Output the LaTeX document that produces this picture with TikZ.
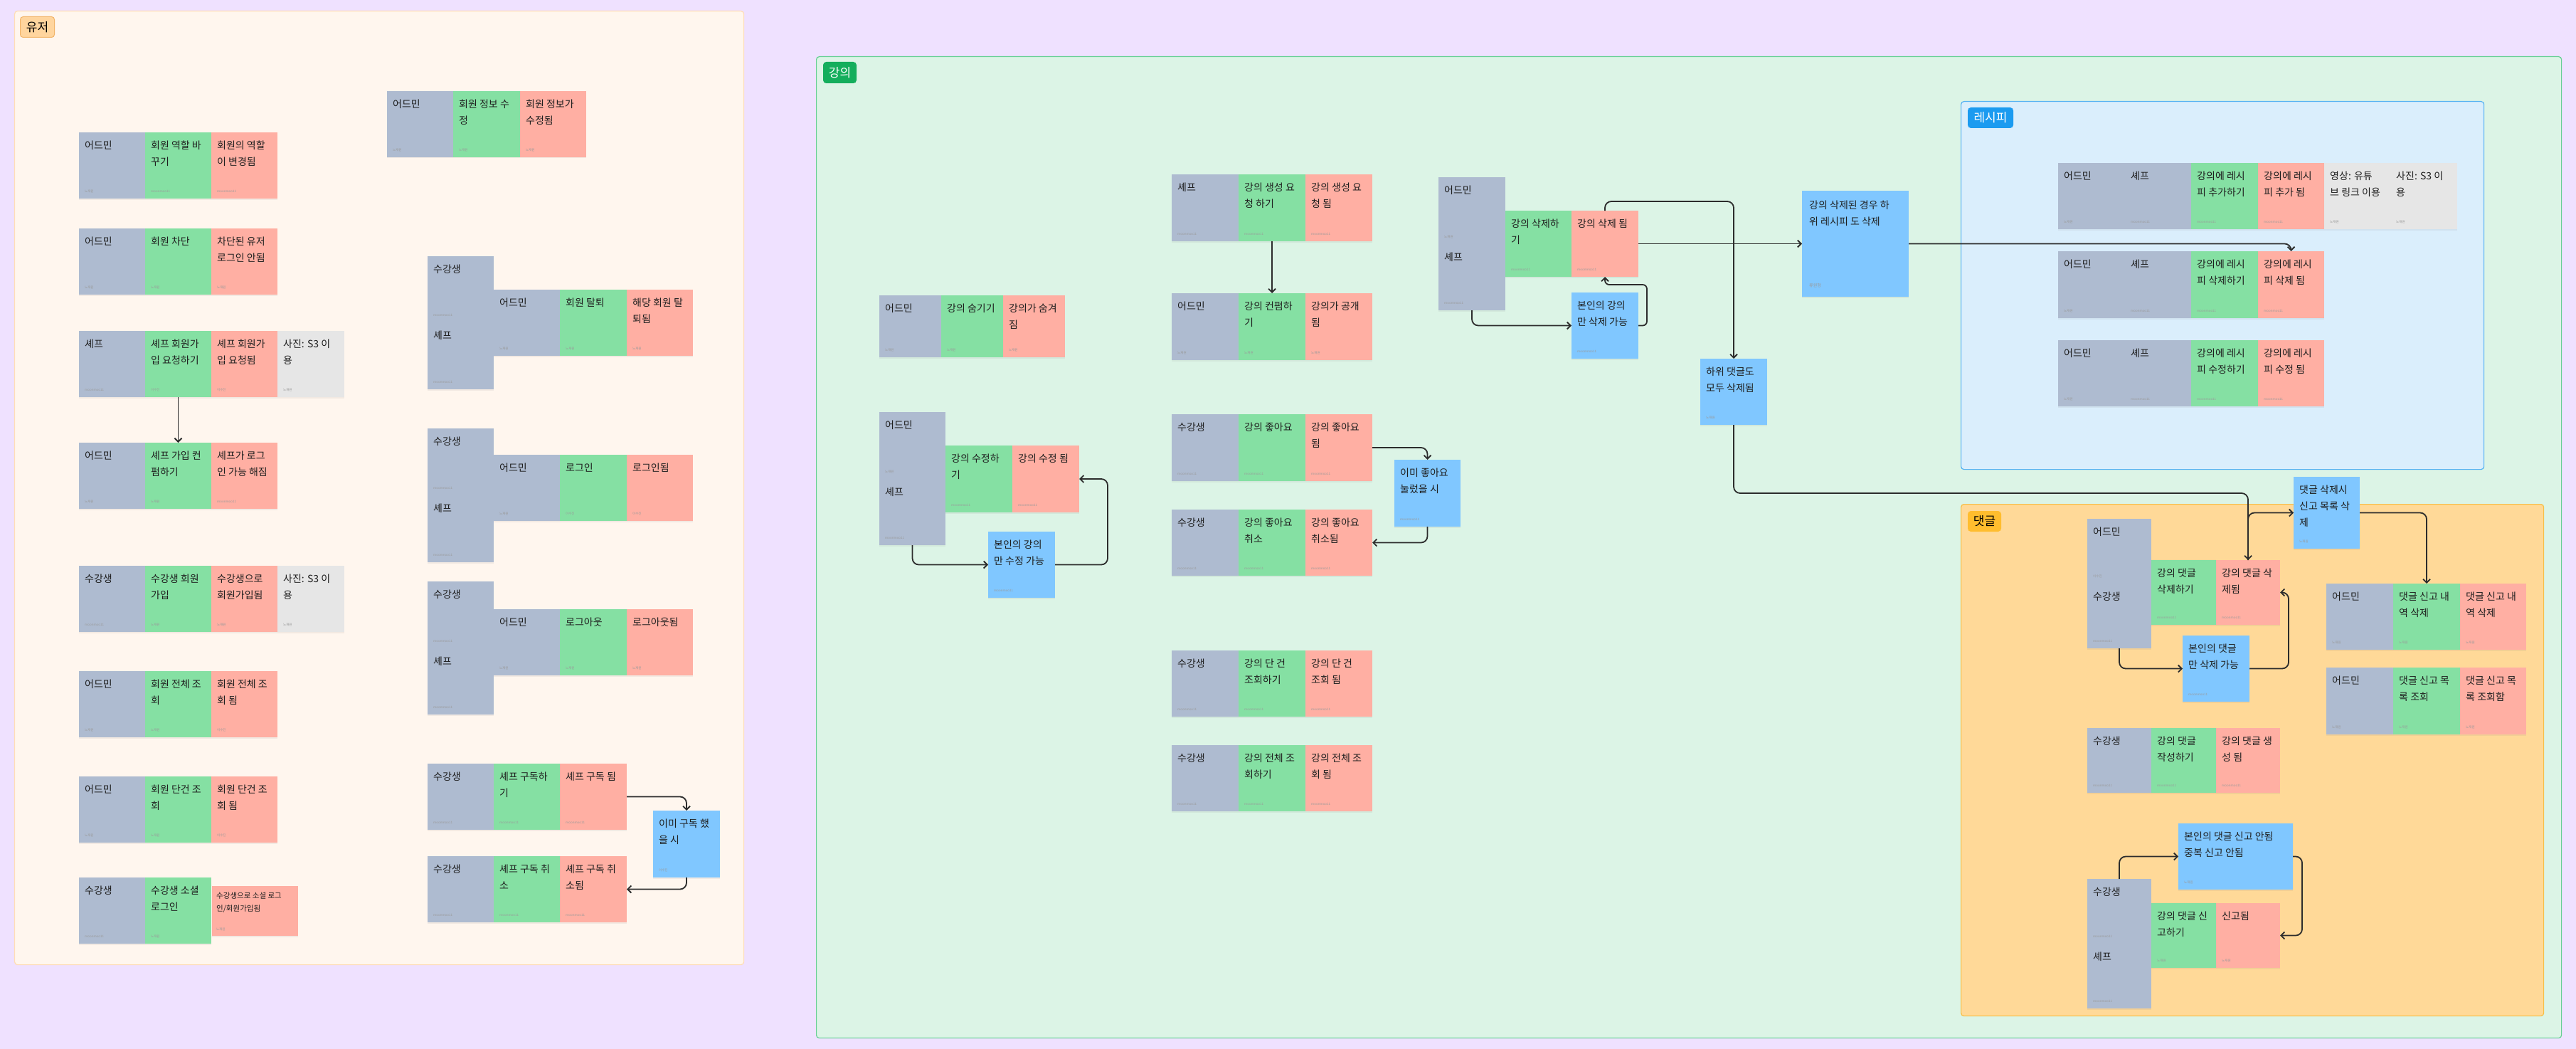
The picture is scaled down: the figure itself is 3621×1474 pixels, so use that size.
\documentclass[tikz,border=0pt]{standalone}
\usepackage{fontspec}
\setmainfont{Noto Sans CJK KR}
\usetikzlibrary{arrows.meta,shadows,calc}

% palette
\definecolor{canvas}{HTML}{EFE1FF}
\definecolor{userbg}{HTML}{FFF6EE}
\definecolor{userline}{HTML}{FFDDB5}
\definecolor{usertag}{HTML}{FFD59E}
\definecolor{usertagline}{HTML}{F2B56B}
\definecolor{lecbg}{HTML}{DCF4E6}
\definecolor{lecline}{HTML}{66CF94}
\definecolor{lectag}{HTML}{14AE5C}
\definecolor{recbg}{HTML}{DAEEFC}
\definecolor{recline}{HTML}{55B2F2}
\definecolor{rectag}{HTML}{1B9BF0}
\definecolor{cmtbg}{HTML}{FFD998}
\definecolor{cmtline}{HTML}{F7BE45}
\definecolor{cmttag}{HTML}{FFBD2E}
\definecolor{actorc}{HTML}{AEBBD0}
\definecolor{actionc}{HTML}{85E0A3}
\definecolor{eventc}{HTML}{FFAFA3}
\definecolor{infoc}{HTML}{E6E6E6}
\definecolor{rulec}{HTML}{80C7FF}
\definecolor{ink}{HTML}{1E1E1E}
\definecolor{wirec}{HTML}{2C2C2C}

\tikzset{
  card/.style={inner sep=0pt, outer sep=0pt, draw=none,
    drop shadow={shadow xshift=0pt, shadow yshift=-1.5pt, opacity=0.10}},
  actorcard/.style={card, fill=actorc},
  actioncard/.style={card, fill=actionc},
  eventcard/.style={card, fill=eventc},
  infocard/.style={card, fill=infoc},
  rulecard/.style={card, fill=rulec},
  cardtxt/.style={inner sep=0pt, align=left, text=ink, font=\fontsize{14}{23}\selectfont},
  smalltxt/.style={inner sep=0pt, align=left, text=ink, font=\fontsize{10.5}{17.5}\selectfont},
  authtxt/.style={inner sep=0pt, text=ink!45, font=\fontsize{4.5}{5}\selectfont},
  panel/.style={rounded corners=4pt, line width=1.2pt, inner sep=0pt, anchor=north west},
  tag/.style={rounded corners=4pt, line width=1pt, inner sep=0pt, anchor=north west,
    font=\fontsize{17}{20}\selectfont},
  wire/.style={draw=wirec, line width=1.8pt, rounded corners=9pt,
    -{Straight Barb[length=5pt,width=10pt]}}
}

% sticky note: name, x, y, width, height, style, text, author
\newcommand\stk[8]{%
  \node[#6, minimum width=#4pt, minimum height=#5pt, anchor=north west] (#1) at (#2,#3) {};
  \node[cardtxt, anchor=north west] (#1t) at ([xshift=8pt,yshift=-12pt]#1.north west) {#7};
  \node[authtxt, anchor=base west] (#1a) at ([xshift=8pt,yshift=9pt]#1.south west) {#8};
}

\begin{document}
\begin{tikzpicture}[x=1pt,y=-1pt]
\fill[canvas] (0,0) rectangle (3621,1474);
\useasboundingbox (0,0) rectangle (3621,1474);

% ---------- containers ----------
\node[panel, fill=userbg, draw=userline, minimum width=1025pt, minimum height=1340pt] (userpanel) at (20,15) {};
\node[tag, fill=usertag, draw=usertagline, minimum width=48pt, minimum height=29pt] (usertag) at (28,23) {유저};

\node[panel, fill=lecbg, draw=lecline, minimum width=2453pt, minimum height=1379pt] (lecpanel) at (1147,79) {};
\node[tag, fill=lectag, draw=lectag, text=white, minimum width=46pt, minimum height=29pt] (lectag) at (1157,87) {강의};

\node[panel, fill=recbg, draw=recline, minimum width=735pt, minimum height=517pt] (recpanel) at (2756,142) {};
\node[tag, fill=rectag, draw=rectag, text=white, minimum width=63pt, minimum height=28pt] (rectag) at (2766,151) {레시피};

\node[panel, fill=cmtbg, draw=cmtline, minimum width=819pt, minimum height=719pt] (cmtpanel) at (2756,708) {};
\node[tag, fill=cmttag, draw=cmttag, minimum width=46pt, minimum height=28pt] (cmttag) at (2766,718) {댓글};

% ---------- 유저 ----------
\stk{uA1}{111}{186}{93}{93}{actorcard}{어드민}{노재원}
\stk{uA2}{204}{186}{93}{93}{actioncard}{회원 역할 바\\꾸기}{moonmoo11}
\stk{uA3}{297}{186}{93}{93}{eventcard}{회원의 역할\\이 변경됨}{moonmoo11}

\stk{uB1}{111}{321}{93}{93}{actorcard}{어드민}{노재원}
\stk{uB2}{204}{321}{93}{93}{actioncard}{회원 차단}{노재원}
\stk{uB3}{297}{321}{93}{93}{eventcard}{차단된 유저\\로그인 안됨}{노재원}

\stk{uC1}{111}{465}{93}{93}{actorcard}{셰프}{moonmoo11}
\stk{uC2}{204}{465}{93}{93}{actioncard}{셰프 회원가\\입 요청하기}{이수진}
\stk{uC3}{297}{465}{93}{93}{eventcard}{셰프 회원가\\입 요청됨}{이수진}
\stk{uC4}{390}{465}{94}{93}{infocard}{사진: S3 이\\용}{노재원}

\stk{uD1}{111}{622}{93}{93}{actorcard}{어드민}{노재원}
\stk{uD2}{204}{622}{93}{93}{actioncard}{셰프 가입 컨\\펌하기}{노재원}
\stk{uD3}{297}{622}{93}{93}{eventcard}{셰프가 로그\\인 가능 해짐}{moonmoo11}

\stk{uE1}{111}{795}{93}{93}{actorcard}{수강생}{moonmoo11}
\stk{uE2}{204}{795}{93}{93}{actioncard}{수강생 회원\\가입}{노재원}
\stk{uE3}{297}{795}{93}{93}{eventcard}{수강생으로\\회원가입됨}{노재원}
\stk{uE4}{390}{795}{94}{93}{infocard}{사진: S3 이\\용}{노재원}

\stk{uF1}{111}{943}{93}{93}{actorcard}{어드민}{노재원}
\stk{uF2}{204}{943}{93}{93}{actioncard}{회원 전체 조\\회}{노재원}
\stk{uF3}{297}{943}{93}{93}{eventcard}{회원 전체 조\\회 됨}{이수진}

\stk{uG1}{111}{1091}{93}{93}{actorcard}{어드민}{노재원}
\stk{uG2}{204}{1091}{93}{93}{actioncard}{회원 단건 조\\회}{노재원}
\stk{uG3}{297}{1091}{93}{93}{eventcard}{회원 단건 조\\회 됨}{이수진}

\stk{uH1}{111}{1233}{93}{93}{actorcard}{수강생}{moonmoo11}
\stk{uH2}{204}{1233}{93}{93}{actioncard}{수강생 소셜\\로그인}{노재원}
\node[eventcard, minimum width=121pt, minimum height=70pt, anchor=north west] (uH3) at (298,1245) {};
\node[smalltxt, anchor=north west] (uH3t) at ([xshift=6pt,yshift=-9pt]uH3.north west) {수강생으로 소셜 로그\\인/회원가입됨};
\node[authtxt, anchor=base west] (uH3a) at ([xshift=6pt,yshift=8pt]uH3.south west) {노재원};

\stk{uI1}{544}{128}{93}{93}{actorcard}{어드민}{노재원}
\stk{uI2}{637}{128}{94}{93}{actioncard}{회원 정보 수\\정}{노재원}
\stk{uI3}{731}{128}{93}{93}{eventcard}{회원 정보가\\수정됨}{노재원}

\stk{uJ0}{601}{360}{93}{93}{actorcard}{수강생}{moonmoo11}
\stk{uJ00}{601}{453}{93}{94}{actorcard}{셰프}{moonmoo11}
\stk{uJ1}{694}{407}{93}{93}{actorcard}{어드민}{노재원}
\stk{uJ2}{787}{407}{94}{93}{actioncard}{회원 탈퇴}{노재원}
\stk{uJ3}{881}{407}{93}{93}{eventcard}{해당 회원 탈\\퇴됨}{노재원}

\stk{uK0}{601}{602}{93}{94}{actorcard}{수강생}{moonmoo11}
\stk{uK00}{601}{696}{93}{94}{actorcard}{셰프}{moonmoo11}
\stk{uK1}{694}{639}{93}{93}{actorcard}{어드민}{노재원}
\stk{uK2}{787}{639}{94}{93}{actioncard}{로그인}{이수진}
\stk{uK3}{881}{639}{93}{93}{eventcard}{로그인됨}{이수진}

\stk{uL0}{601}{817}{93}{94}{actorcard}{수강생}{moonmoo11}
\stk{uL00}{601}{911}{93}{93}{actorcard}{셰프}{moonmoo11}
\stk{uL1}{694}{856}{93}{93}{actorcard}{어드민}{노재원}
\stk{uL2}{787}{856}{94}{93}{actioncard}{로그아웃}{노재원}
\stk{uL3}{881}{856}{93}{93}{eventcard}{로그아웃됨}{노재원}

\stk{uM1}{601}{1073}{93}{93}{actorcard}{수강생}{moonmoo11}
\stk{uM2}{694}{1073}{93}{93}{actioncard}{셰프 구독하\\기}{moonmoo11}
\stk{uM3}{787}{1073}{94}{93}{eventcard}{셰프 구독 됨}{moonmoo11}
\stk{subNote}{918}{1139}{94}{94}{rulecard}{이미 구독 했\\을 시}{이수진}
\stk{uN1}{601}{1203}{93}{93}{actorcard}{수강생}{moonmoo11}
\stk{uN2}{694}{1203}{93}{93}{actioncard}{셰프 구독 취\\소}{moonmoo11}
\stk{uN3}{787}{1203}{94}{93}{eventcard}{셰프 구독 취\\소됨}{moonmoo11}

% ---------- 강의 ----------
\stk{hd1}{1236}{415}{87}{87}{actorcard}{어드민}{노재원}
\stk{hd2}{1323}{415}{87}{87}{actioncard}{강의 숨기기}{노재원}
\stk{hd3}{1410}{415}{87}{87}{eventcard}{강의가 숨겨\\짐}{노재원}

\stk{edA1}{1236}{579}{93}{94}{actorcard}{어드민}{노재원}
\stk{edA2}{1236}{673}{93}{93}{actorcard}{셰프}{moonmoo11}
\stk{edB}{1329}{626}{94}{94}{actioncard}{강의 수정하\\기}{moonmoo11}
\stk{edC}{1423}{626}{94}{94}{eventcard}{강의 수정 됨}{moonmoo11}
\stk{edNote}{1389}{747}{94}{93}{rulecard}{본인의 강의\\만 수정 가능}{moonmoo11}

\stk{L1a}{1647}{245}{94}{94}{actorcard}{셰프}{moonmoo11}
\stk{L1b}{1741}{245}{94}{94}{actioncard}{강의 생성 요\\청 하기}{moonmoo11}
\stk{L1c}{1835}{245}{94}{94}{eventcard}{강의 생성 요\\청 됨}{moonmoo11}

\stk{L2a}{1647}{412}{94}{94}{actorcard}{어드민}{노재원}
\stk{L2b}{1741}{412}{94}{94}{actioncard}{강의 컨펌하\\기}{노재원}
\stk{L2c}{1835}{412}{94}{94}{eventcard}{강의가 공개\\됨}{노재원}

\stk{L3a}{1647}{582}{94}{94}{actorcard}{수강생}{moonmoo11}
\stk{L3b}{1741}{582}{94}{94}{actioncard}{강의 좋아요}{moonmoo11}
\stk{L3c}{1835}{582}{94}{94}{eventcard}{강의 좋아요\\됨}{moonmoo11}

\stk{L4a}{1647}{716}{94}{93}{actorcard}{수강생}{moonmoo11}
\stk{L4b}{1741}{716}{94}{93}{actioncard}{강의 좋아요\\취소}{moonmoo11}
\stk{L4c}{1835}{716}{94}{93}{eventcard}{강의 좋아요\\취소됨}{moonmoo11}

\stk{likeNote}{1960}{646}{93}{94}{rulecard}{이미 좋아요\\눌렀을 시}{moonmoo11}

\stk{L5a}{1647}{914}{94}{93}{actorcard}{수강생}{moonmoo11}
\stk{L5b}{1741}{914}{94}{93}{actioncard}{강의 단 건\\조회하기}{moonmoo11}
\stk{L5c}{1835}{914}{94}{93}{eventcard}{강의 단 건\\조회 됨}{moonmoo11}

\stk{L6a}{1647}{1047}{94}{93}{actorcard}{수강생}{moonmoo11}
\stk{L6b}{1741}{1047}{94}{93}{actioncard}{강의 전체 조\\회하기}{moonmoo11}
\stk{L6c}{1835}{1047}{94}{93}{eventcard}{강의 전체 조\\회 됨}{moonmoo11}

\stk{dlA1}{2022}{249}{94}{94}{actorcard}{어드민}{노재원}
\stk{dlA2}{2022}{343}{94}{93}{actorcard}{셰프}{moonmoo11}
\stk{dlB}{2116}{296}{93}{93}{actioncard}{강의 삭제하\\기}{moonmoo11}
\stk{dlC}{2209}{296}{94}{93}{eventcard}{강의 삭제 됨}{moonmoo11}
\stk{dlNote}{2209}{411}{94}{93}{rulecard}{본인의 강의\\만 삭제 가능}{moonmoo11}

\stk{subCmt}{2390}{504}{94}{93}{rulecard}{하위 댓글도\\모두 삭제됨}{노재원}
\node[rulecard, minimum width=150pt, minimum height=149pt, anchor=north west] (bigNote) at (2533,268) {};
\node[cardtxt, anchor=north west] (bigNotet) at ([xshift=10pt,yshift=-14pt]bigNote.north west) {강의 삭제된 경우 하\\위 레시피 도 삭제};
\node[authtxt, anchor=base west, font=\fontsize{6}{7}\selectfont] (bigNotea) at ([xshift=10pt,yshift=14pt]bigNote.south west) {류원형};

% ---------- 레시피 ----------
\stk{R1a}{2893}{229}{94}{93}{actorcard}{어드민}{노재원}
\stk{R1b}{2987}{229}{93}{93}{actorcard}{셰프}{moonmoo11}
\stk{R1c}{3080}{229}{94}{93}{actioncard}{강의에 레시\\피 추가하기}{moonmoo11}
\stk{R1d}{3174}{229}{93}{93}{eventcard}{강의에 레시\\피 추가 됨}{moonmoo11}
\stk{R1e}{3267}{229}{93}{93}{infocard}{영상: 유튜\\브 링크 이용}{노재원}
\stk{R1f}{3360}{229}{94}{93}{infocard}{사진: S3 이\\용}{노재원}

\stk{R2a}{2893}{353}{94}{94}{actorcard}{어드민}{노재원}
\stk{R2b}{2987}{353}{93}{94}{actorcard}{셰프}{moonmoo11}
\stk{R2c}{3080}{353}{94}{94}{actioncard}{강의에 레시\\피 삭제하기}{moonmoo11}
\stk{R2d}{3174}{353}{93}{94}{eventcard}{강의에 레시\\피 삭제 됨}{moonmoo11}

\stk{R3a}{2893}{478}{94}{93}{actorcard}{어드민}{노재원}
\stk{R3b}{2987}{478}{93}{93}{actorcard}{셰프}{moonmoo11}
\stk{R3c}{3080}{478}{94}{93}{actioncard}{강의에 레시\\피 수정하기}{moonmoo11}
\stk{R3d}{3174}{478}{93}{93}{eventcard}{강의에 레시\\피 수정 됨}{moonmoo11}

% ---------- 댓글 ----------
\stk{cdA1}{2934}{729}{90}{91}{actorcard}{어드민}{이수진}
\stk{cdA2}{2934}{820}{90}{91}{actorcard}{수강생}{moonmoo11}
\stk{cdB}{3024}{787}{91}{91}{actioncard}{강의 댓글\\삭제하기}{moonmoo11}
\stk{cdC}{3115}{787}{90}{91}{eventcard}{강의 댓글 삭\\제됨}{moonmoo11}
\stk{cdNote}{3068}{893}{94}{93}{rulecard}{본인의 댓글\\만 삭제 가능}{moonmoo11}

\stk{rpNote}{3224}{670}{93}{101}{rulecard}{댓글 삭제시\\신고 목록 삭\\제}{노재원}

\stk{ra1}{3270}{820}{94}{93}{actorcard}{어드민}{노재원}
\stk{ra2}{3364}{820}{94}{93}{actioncard}{댓글 신고 내\\역 삭제}{노재원}
\stk{ra3}{3458}{820}{93}{93}{eventcard}{댓글 신고 내\\역 삭제}{노재원}

\stk{rb1}{3270}{938}{94}{94}{actorcard}{어드민}{노재원}
\stk{rb2}{3364}{938}{94}{94}{actioncard}{댓글 신고 목\\록 조회}{노재원}
\stk{rb3}{3458}{938}{93}{94}{eventcard}{댓글 신고 목\\록 조회함}{노재원}

\stk{cw1}{2934}{1023}{90}{91}{actorcard}{수강생}{moonmoo11}
\stk{cw2}{3024}{1023}{91}{91}{actioncard}{강의 댓글\\작성하기}{moonmoo11}
\stk{cw3}{3115}{1023}{90}{91}{eventcard}{강의 댓글 생\\성 됨}{moonmoo11}

\stk{rpA1}{2934}{1235}{90}{91}{actorcard}{수강생}{moonmoo11}
\stk{rpA2}{2934}{1326}{90}{91}{actorcard}{셰프}{moonmoo11}
\stk{rpB}{3024}{1269}{91}{91}{actioncard}{강의 댓글 신\\고하기}{노재원}
\stk{rpC}{3115}{1269}{90}{91}{eventcard}{신고됨}{노재원}
\stk{rpnNote}{3062}{1157}{161}{93}{rulecard}{본인의 댓글 신고 안됨\\중복 신고 안됨}{노재원}

% ---------- connectors ----------
\draw[wire] (uC2.south) -- (uD2.north);
\draw[wire] (uM3.east) -| (subNote.north);
\draw[wire] (subNote.south) |- (uN3.east);

\draw[wire] (L1b.south) -- (L2b.north);
\draw[wire] (L3c.east) -| (likeNote.north);
\draw[wire] (likeNote.south) |- (L4c.east);

\draw[wire] (edA2.south) |- (edNote.west);
\draw[wire] (edNote.east) -- ++(74,0) |- (edC.east);

\draw[wire] (dlA2.south) |- (dlNote.west);
\draw[wire, rounded corners=6pt] (dlNote.east) -- ++(12,0) |- ([yshift=-11pt]dlC.south) -- (dlC.south);
\draw[wire] (dlC.east) -- (bigNote.west);
\draw[wire] (dlC.north) -- ([yshift=13pt]dlC.north) -| (subCmt.north);
\draw[wire] (bigNote.east) -| (R2d.north);
\draw[wire] (subCmt.south) |- ([yshift=94pt]cdC.north) -- (cdC.north);

\draw[wire] (cdC.north) |- (rpNote.west);
\draw[wire] (rpNote.east) -| (ra2.north);
\draw[wire] (cdA2.south) |- (cdNote.west);
\draw[wire] (cdNote.east) -- ++(55,0) |- (cdC.east);
\draw[wire] (rpA1.north) |- (rpnNote.west);
\draw[wire] (rpnNote.east) -- ++(13,0) |- (rpC.east);
\end{tikzpicture}
\end{document}
